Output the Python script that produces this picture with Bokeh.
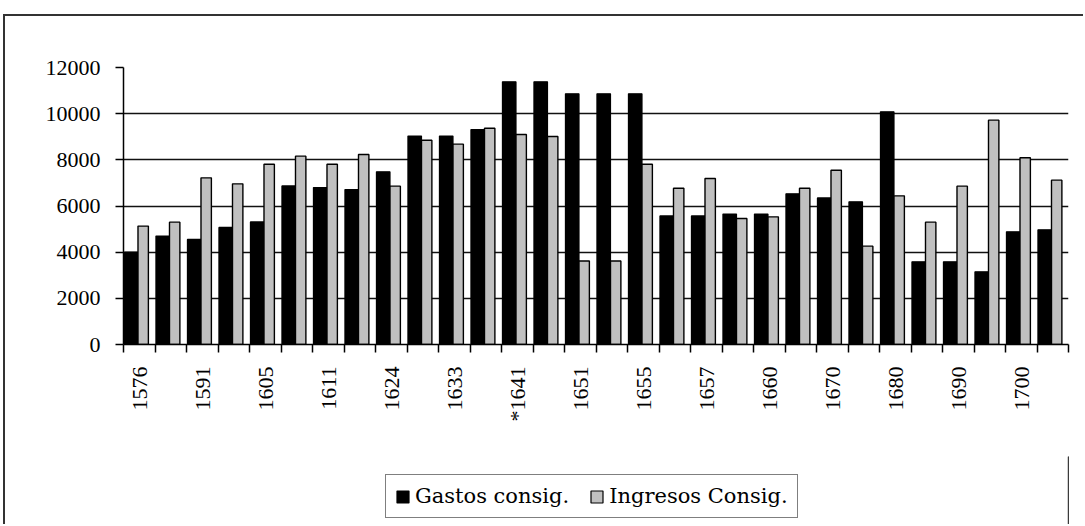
import math
from bokeh.plotting import figure
from bokeh.layouts import column
from bokeh.models import Range1d, FixedTicker, Legend, LegendItem
from bokeh.embed import file_html
from bokeh.resources import INLINE

# ---- data ----
gastos = [4000, 4700, 4550, 5070, 5310, 6870, 6800, 6710, 7480, 9030,
          9030, 9310, 11380, 11380, 10860, 10860, 10860, 5570, 5570, 5650,
          5650, 6530, 6350, 6180, 10080, 3580, 3580, 3150, 4880, 4970]
ingresos = [5130, 5300, 7220, 6960, 7810, 8160, 7810, 8230, 6860, 8850,
            8680, 9370, 9100, 9010, 3620, 3620, 7810, 6770, 7190, 5460,
            5530, 6770, 7550, 4260, 6440, 5300, 6860, 9720, 8090, 7120]
tick_labels = ["1576", "1591", "1605", "1611", "1624", "1633", "*1641", "1651",
               "1655", "1657", "1660", "1670", "1680", "1690", "1700"]
series_names = ["Gastos consig.", "Ingresos Consig."]
y_ticks = [0, 2000, 4000, 6000, 8000, 10000, 12000]

n = len(gastos)
xs = list(range(1, n + 1))
label_pos = [1 + 2 * k for k in range(len(tick_labels))]

FONT = "Liberation Serif"
LEGEND_FONT = "DejaVu Serif"
BLACK = "black"
GRAY = "#C0C0C0"

# ---------------- main chart ----------------
p = figure(width=1078, height=440, output_backend="svg", toolbar_location=None,
           x_range=Range1d(0.5, n + 0.5), y_range=Range1d(0, 12000),
           min_border_left=118, min_border_right=15, min_border_top=51,
           min_border_bottom=112)
p.outline_line_color = None
p.background_fill_color = "white"
p.border_fill_color = "white"

bx = [x - 0.255 for x in xs]
gx = [x + 0.125 for x in xs]
p.vbar(x=bx, top=gastos, width=0.43, bottom=0, fill_color=BLACK,
       line_color="black", line_width=1.2)
p.vbar(x=gx, top=ingresos, width=0.33, bottom=0, fill_color=GRAY,
       line_color="black", line_width=1.4)

p.xgrid.grid_line_color = None
p.ygrid.ticker = FixedTicker(ticks=y_ticks)
p.ygrid.grid_line_color = "#111111"
p.ygrid.grid_line_width = 1.3
p.ygrid.level = "underlay"

ya = p.yaxis[0]
ya.ticker = FixedTicker(ticks=y_ticks)
ya.axis_line_color = "black"
ya.axis_line_width = 1.5
ya.major_tick_out = 8
ya.major_tick_in = 0
ya.major_tick_line_width = 1.5
ya.minor_tick_out = 0
ya.minor_tick_in = 0
ya.major_label_text_font = FONT
ya.major_label_text_font_size = "22px"
ya.major_label_text_color = "black"
ya.major_label_standoff = 15

xa = p.xaxis[0]
xa.ticker = FixedTicker(ticks=label_pos, minor_ticks=[x - 0.5 for x in xs] + [n + 0.5])
xa.major_label_overrides = {pos: lab for pos, lab in zip(label_pos, tick_labels)}
xa.major_label_orientation = math.pi / 2
xa.axis_line_color = "black"
xa.axis_line_width = 1.5
xa.major_tick_out = 0
xa.major_tick_in = 0
xa.minor_tick_out = 8
xa.minor_tick_in = 0
xa.minor_tick_line_color = "black"
xa.minor_tick_line_width = 1.5
xa.major_label_text_font = FONT
xa.major_label_text_font_size = "22px"
xa.major_label_text_color = "black"
xa.major_label_standoff = 14

# ---------------- legend strip ----------------
q = figure(width=1078, height=68, output_backend="svg", toolbar_location=None,
           x_axis_type=None, y_axis_type=None,
           x_range=Range1d(0, 1), y_range=Range1d(0, 1),
           min_border=0)
q.outline_line_color = None
q.xgrid.grid_line_color = None
q.ygrid.grid_line_color = None
q.background_fill_color = "white"
q.border_fill_color = "white"
# legend key renderers (placed outside the visible range; only their style is shown)
k1 = q.vbar(x=[10], top=[1], width=0.1, fill_color=BLACK, line_color="black", line_width=1.2)
k2 = q.vbar(x=[10], top=[1], width=0.1, fill_color=GRAY, line_color="black", line_width=1.2)

legend = Legend(items=[LegendItem(label=series_names[0], renderers=[k1]),
                       LegendItem(label=series_names[1], renderers=[k2])],
                location=(262, 6), orientation="horizontal")
legend.label_text_font = LEGEND_FONT
legend.label_text_font_size = "21px"
legend.label_text_color = "black"
legend.glyph_width = 15
legend.glyph_height = 15
legend.label_standoff = 5
legend.spacing = 20
legend.padding = 9
legend.margin = 0
legend.border_line_color = "black"
legend.border_line_width = 1.5
legend.background_fill_color = "white"
legend.background_fill_alpha = 1.0
q.add_layout(legend, "center")

page = column(p, q, spacing=0)
page.styles = {"border-top": "2px solid #333333", "border-left": "2px solid #333333",
               "margin-left": "3px", "margin-top": "14px"}

open("out.html", "w").write(file_html(page, INLINE))
